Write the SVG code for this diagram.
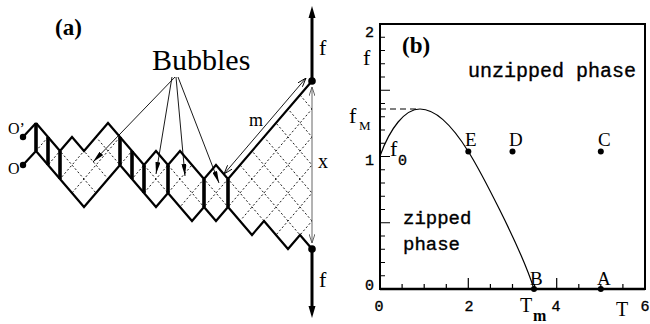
<svg xmlns="http://www.w3.org/2000/svg" width="650" height="324" viewBox="0 0 650 324">
<style>
.serif{font-family:"Liberation Serif","Times New Roman",serif;fill:#000}
.mono{font-family:"Liberation Mono","Courier New",monospace;fill:#000;stroke:#000;stroke-width:0.35}
.strand{fill:none;stroke:#000;stroke-width:2.2;stroke-linejoin:miter}
.bar{stroke:#000;stroke-width:3.6}
.lat{fill:none;stroke:#000;stroke-width:0.9;stroke-dasharray:2 2.2}
.thin{fill:none;stroke:#000;stroke-width:0.9}
.axis{fill:none;stroke:#000;stroke-width:2}
.tick{stroke:#000;stroke-width:1.2}
</style>
<defs>
<marker id="fillArr" viewBox="0 0 12 5" refX="12" refY="2.5" markerWidth="12" markerHeight="5" markerUnits="userSpaceOnUse" orient="auto"><path d="M0,0L12,2.5L0,5z" fill="#000"/></marker>
<marker id="openArr" viewBox="0 0 9 6" refX="9" refY="3" markerWidth="9" markerHeight="6" markerUnits="userSpaceOnUse" orient="auto-start-reverse"><path d="M0,0L9,3L0,6" fill="none" stroke="#000" stroke-width="0.9"/></marker>
<marker id="openArrG" viewBox="0 0 9 6" refX="9" refY="3" markerWidth="9" markerHeight="6" markerUnits="userSpaceOnUse" orient="auto-start-reverse"><path d="M0,0L9,3L0,6" fill="none" stroke="#555" stroke-width="0.9"/></marker>
<clipPath id="dnaClip"><polygon points="36,123 48,137 60,151 72,137 84,151 96,137 108,123 120,137 132,151 144,165 156,151 168,165 180,151 192,165 204,179 216,165 228,179 312,81 312,249 300,235 288,249 276,235 264,221 252,235 240,221 228,207 216,221 204,207 192,221 180,207 168,193 156,207 144,193 132,179 120,165 108,179 96,193 84,207 72,193 60,179 48,165 36,151"/></clipPath>
</defs>

<!-- Panel (a) -->
<g id="panel-a">
<text class="serif" x="55" y="35" font-size="23" font-weight="bold">(a)</text>
<g id="lattice" clip-path="url(#dnaClip)">
<path class="lat" d="M-90 60L84 263M-66 60L108 263M-42 60L132 263M-18 60L156 263M6 60L180 263M30 60L204 263M54 60L228 263M78 60L252 263M102 60L276 263M126 60L300 263M150 60L324 263M174 60L348 263M198 60L372 263M222 60L396 263M246 60L420 263M270 60L444 263M-108 263L66 60M-84 263L90 60M-60 263L114 60M-36 263L138 60M-12 263L162 60M12 263L186 60M36 263L210 60M60 263L234 60M84 263L258 60M108 263L282 60M132 263L306 60M156 263L330 60M180 263L354 60M204 263L378 60M228 263L402 60M252 263L426 60M276 263L450 60M300 263L474 60"/>
</g>
<g id="strand-upper"><polyline class="strand" points="36,123 48,137 60,151 72,137 84,151 96,137 108,123 120,137 132,151 144,165 156,151 168,165 180,151 192,165 204,179 216,165 228,179 312,81"/></g>
<g id="strand-lower"><polyline class="strand" points="36,151 48,165 60,179 72,193 84,207 96,193 108,179 120,165 132,179 144,193 156,207 168,193 180,207 192,221 204,207 216,221 228,207 240,221 252,235 264,221 276,235 288,249 300,235 312,249"/></g>
<g id="base-pairs">
<line class="bar" x1="36" y1="123" x2="36" y2="151"/>
<line class="bar" x1="48" y1="137" x2="48" y2="165"/>
<line class="bar" x1="60" y1="151" x2="60" y2="179"/>
<line class="bar" x1="120" y1="137" x2="120" y2="165"/>
<line class="bar" x1="132" y1="151" x2="132" y2="179"/>
<line class="bar" x1="144" y1="165" x2="144" y2="193"/>
<line class="bar" x1="168" y1="165" x2="168" y2="193"/>
<line class="bar" x1="204" y1="179" x2="204" y2="207"/>
<line class="bar" x1="228" y1="179" x2="228" y2="207"/>
</g>
<g id="ends">
<line class="strand" x1="23" y1="137" x2="36" y2="123"/>
<line class="strand" x1="23" y1="165" x2="36" y2="151"/>
<circle cx="23" cy="137" r="3.2"/>
<circle cx="23" cy="165" r="3.2"/>
<text class="serif" x="8" y="134" font-size="16">O’</text>
<text class="serif" x="8" y="174" font-size="16">O</text>
</g>
<g id="force-top">
<line x1="312" y1="81" x2="312" y2="16" stroke="#000" stroke-width="3"/>
<polygon points="312,6 308.5,18 315.5,18" fill="#000"/>
<circle cx="312" cy="81" r="3.8"/>
<text class="serif" x="319" y="55" font-size="22">f</text>
</g>
<g id="force-bottom">
<line x1="312" y1="249" x2="312" y2="308" stroke="#000" stroke-width="3"/>
<polygon points="312,318 308.5,306 315.5,306" fill="#000"/>
<circle cx="312" cy="249" r="3.8"/>
<text class="serif" x="319" y="287" font-size="22">f</text>
</g>
<g id="bubbles-label"><text class="serif" x="152" y="70" font-size="30">Bubbles</text></g>
<g id="connectors">
<line class="thin" x1="175" y1="77" x2="93" y2="162" marker-end="url(#fillArr)"/>
<line class="thin" x1="172" y1="77" x2="156" y2="174" marker-end="url(#fillArr)"/>
<line class="thin" x1="176" y1="77" x2="185" y2="176" marker-end="url(#fillArr)"/>
<line class="thin" x1="178" y1="77" x2="219" y2="183" marker-end="url(#fillArr)"/>
<line class="thin" x1="224" y1="174" x2="306" y2="78" marker-start="url(#openArr)" marker-end="url(#openArr)"/>
<line x1="312" y1="87" x2="312" y2="243" fill="none" stroke="#555" stroke-width="0.9" marker-start="url(#openArrG)" marker-end="url(#openArrG)"/>
</g>
<text class="serif" x="249" y="126" font-size="18">m</text>
<text class="serif" x="318" y="168" font-size="20">x</text>
</g>

<!-- Panel (b) -->
<g id="panel-b">
<rect class="axis" x="380" y="24" width="265" height="265"/>
<line x1="380" y1="289" x2="645" y2="289" stroke="#000" stroke-width="2.6"/>
<g id="yticks">
<path class="tick" d="M380 275.75h5M380 262.5h5M380 249.25h5M380 236h5M380 222.75h10M380 209.5h5M380 196.25h5M380 183h5M380 169.75h5M380 156.5h10M380 143.25h5M380 130h5M380 116.75h5M380 103.5h5M380 90.25h10M380 77h5M380 63.75h5M380 50.5h5M380 37.25h5"/>
</g>
<g id="xticks">
<path class="tick" d="M402.1 289v-5M424.2 289v-5M446.3 289v-5M468.3 289v-11M490.4 289v-5M512.5 289v-5M534.6 289v-5M556.7 289v-11M578.8 289v-5M600.8 289v-5M622.9 289v-5"/>
</g>
<text class="mono" x="374" y="37" font-size="15" text-anchor="end">2</text>
<text class="mono" x="374" y="165" font-size="15" text-anchor="end">1</text>
<text class="mono" x="374" y="290" font-size="15" text-anchor="end">0</text>
<text class="mono" x="379" y="311" font-size="15" text-anchor="middle">0</text>
<text class="mono" x="469" y="311" font-size="15" text-anchor="middle">2</text>
<text class="mono" x="556" y="311" font-size="15" text-anchor="middle">4</text>
<text class="mono" x="645" y="311" font-size="15" text-anchor="middle">6</text>
<text class="serif" x="363" y="65" font-size="22">f</text>
<text class="serif" x="616" y="316" font-size="20">T</text>
<text class="serif" x="520" y="312" font-size="20">T</text>
<text class="serif" x="533" y="321" font-size="16" font-weight="bold">m</text>
<text class="serif" x="349" y="123" font-size="22">f</text>
<text class="serif" x="359" y="130" font-size="13">M</text>
<text class="serif" x="390" y="156" font-size="22">f</text>
<text class="mono" x="398" y="165" font-size="15">0</text>
<text class="serif" x="402" y="53" font-size="23" font-weight="bold">(b)</text>
<line x1="380" y1="109" x2="420" y2="109" stroke="#000" stroke-width="1" stroke-dasharray="6 4"/>
<g id="phase-boundary"><path d="M380 156C390 128 405 109 420 109C440 109 458 135 468.3 151.5C478 167 520 245 534 289" fill="none" stroke="#000" stroke-width="1.2"/></g>
<text class="mono" x="468" y="77" font-size="20">unzipped phase</text>
<text class="mono" x="403" y="224" font-size="19">zipped</text>
<text class="mono" x="403" y="250" font-size="19">phase</text>
<g id="point-E"><circle cx="468.3" cy="151.5" r="3"/><text class="serif" x="465" y="146" font-size="19">E</text></g>
<g id="point-D"><circle cx="512.5" cy="151.5" r="3"/><text class="serif" x="509" y="146" font-size="19">D</text></g>
<g id="point-C"><circle cx="600.8" cy="151.5" r="3"/><text class="serif" x="598" y="146" font-size="19">C</text></g>
<g id="point-B"><circle cx="534" cy="289" r="3"/><text class="serif" x="530" y="285" font-size="19">B</text></g>
<g id="point-A"><circle cx="600.8" cy="289" r="3"/><text class="serif" x="597" y="285" font-size="19">A</text></g>
</g>
</svg>
